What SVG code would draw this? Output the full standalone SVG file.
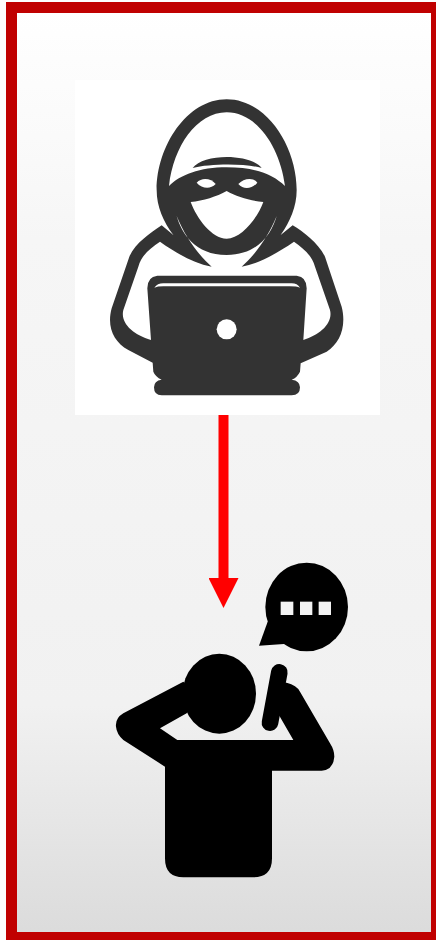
<svg xmlns="http://www.w3.org/2000/svg" width="436" height="940" viewBox="0 0 436 940">
  <style>
    .ink { fill: #333333; }
    .cut { fill: #ffffff; }
    .blk { fill: #000000; }
    .conn { stroke: #ff0000; stroke-width: 10; fill: none; }
  </style>
  <defs>
    <linearGradient id="panelFill" x1="0" y1="0" x2="0" y2="1">
      <stop offset="0" stop-color="#ffffff"/>
      <stop offset="0.25" stop-color="#f6f6f6"/>
      <stop offset="0.75" stop-color="#f1f1f1"/>
      <stop offset="1" stop-color="#dbdbdb"/>
    </linearGradient>
    <filter id="soft" x="-5%" y="-5%" width="110%" height="110%">
      <feGaussianBlur stdDeviation="0.5"/>
    </filter>
    <marker id="head" markerWidth="3" markerHeight="3" refX="0" refY="1.5" orient="auto">
      <path d="M0 0L3 1.5L0 3Z" fill="#ff0000"/>
    </marker>
  </defs>
  <rect width="436" height="940" fill="#fdfdfd"/>
  <g id="panel">
    <rect x="11.5" y="7.5" width="425" height="930" fill="url(#panelFill)" stroke="#c00000" stroke-width="11"/>
  </g>
  <g id="hacker">
    <rect x="75" y="80" width="305" height="335" fill="#ffffff"/>
    <g transform="translate(70 80) scale(0.33333)">
      <path class="ink" d="M470 58C590 58 680 200 680 330C680 380 660 425 632 465L668 436C700 455 745 490 765 530L815 680C830 740 810 790 770 815L692 850L690 875Q682 892 665 899Q690 902 690 922Q690 946 665 946L275 946Q252 946 252 922Q252 902 275 899Q256 890 250 875L248 848L175 810C130 785 110 740 125 685L178 530C195 490 240 460 275 436L310 465C280 425 260 380 260 330C260 200 350 58 470 58Z"/>
      <path class="cut" d="M470 97C560 97 630 200 645 318C610 285 560 262 470 262C390 262 330 285 297 318C310 200 380 97 470 97Z"/>
      <path class="ink" d="M368 264C400 220 540 220 575 264C530 250 420 250 368 264Z"/>
      <path class="cut" d="M380 308C395 290 425 295 437 312C420 330 395 325 380 308Z"/>
      <path class="cut" d="M505 312C520 295 550 290 562 308C545 328 520 330 505 312Z"/>
      <path class="cut" d="M362 366C400 362 440 350 470 333C500 350 540 362 580 366C565 410 515 476 470 476C425 476 380 415 362 366Z"/>
      <path class="cut" d="M270 485C320 520 370 550 425 560C385 525 345 470 320 408C335 460 375 525 470 525C565 525 605 460 620 408C595 470 555 525 515 560C570 550 620 520 672 485C700 505 725 525 735 560L780 690C790 730 750 765 700 780L710 625Q710 590 680 587L262 587Q232 590 232 625L243 780C190 765 150 730 160 690L205 560C215 525 240 505 270 485Z"/>
      <path class="cut" d="M253 623Q262 610 280 610L665 610Q682 610 690 623Q680 619 660 619L280 619Q262 619 253 623Z"/>
      <circle class="cut" cx="470" cy="748" r="30"/>
    </g>
  </g>
  <g id="connectors">
    <line class="conn" x1="223.5" y1="415" x2="223.5" y2="578" marker-end="url(#head)"/>
  </g>
  <g id="person" filter="url(#soft)">
    <g transform="translate(100 550) scale(0.33333)">
      <ellipse class="blk" cx="358" cy="431" rx="110" ry="120"/>
      <path class="blk" d="M250 395L70 490Q45 505 48 530Q50 552 70 570L195 650L195 925Q195 982 250 982L460 982Q516 982 516 925L516 662L665 662Q700 660 703 620Q703 600 690 580L600 425Q590 405 560 398L520 400L520 497L538 497L580 570L232 570L180 535L260 490L300 440Z"/>
      <line x1="538" y1="367" x2="510" y2="518" stroke="#000000" stroke-width="50" stroke-linecap="round"/>
    </g>
  </g>
  <g id="speech-bubble" filter="url(#soft)">
    <g transform="translate(100 550) scale(0.33333)">
      <ellipse class="blk" cx="620" cy="171" rx="124" ry="133"/>
      <path class="blk" d="M503 215L477 287L552 282L600 200Z"/>
      <rect x="542" y="155" width="38" height="40" fill="#f3f3f3"/>
      <rect x="600" y="155" width="37" height="40" fill="#f3f3f3"/>
      <rect x="656" y="155" width="37" height="40" fill="#f3f3f3"/>
    </g>
  </g>
</svg>
